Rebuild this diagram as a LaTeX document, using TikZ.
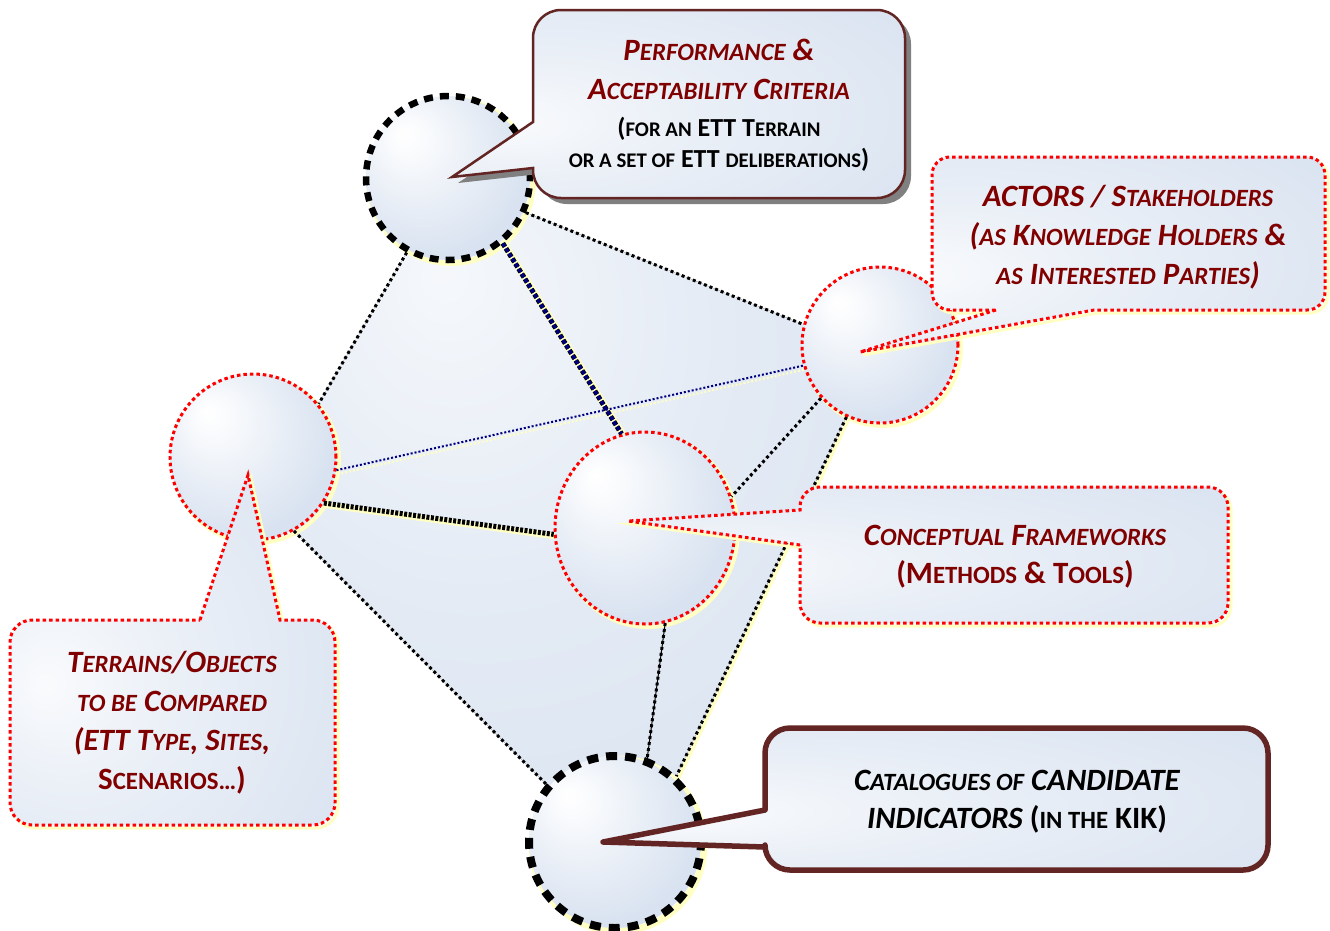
\documentclass[tikz,border=0pt]{standalone}
\usepackage{fontspec}
\setmainfont{Carlito}
\usetikzlibrary{shapes.geometric}
\definecolor{dred}{HTML}{800000}
\definecolor{bord}{HTML}{632523}
\definecolor{bl}{HTML}{D8E2F0}
\definecolor{glow}{HTML}{FFFFC4}
\definecolor{navy}{HTML}{00007F}
\definecolor{shd}{HTML}{808080}
\pgfdeclareradialshading{cirsh}{\pgfpoint{-14bp}{14bp}}{color(0bp)=(white); color(4bp)=(white!90!bl); color(30bp)=(bl); color(50bp)=(bl)}
\pgfdeclareradialshading{boxsh}{\pgfpoint{-20bp}{-5bp}}{color(0bp)=(white!85!bl); color(15bp)=(white!50!bl); color(45bp)=(bl); color(70bp)=(bl)}
\pgfdeclareradialshading{polysh}{\pgfpoint{-10bp}{18bp}}{color(0bp)=(white!75!bl); color(20bp)=(white!30!bl); color(45bp)=(bl); color(70bp)=(bl)}
\makeatletter
\newcommand\sm[1]{{\fontsize{\fpeval{0.8*\f@size}}{0pt}\selectfont #1}}
\makeatother
\newcommand\pl{\upshape\color{black}\fontsize{26}{31}\selectfont}
\pgfdeclarelayer{back}
\pgfdeclarelayer{front}
\pgfsetlayers{back,main,front}
\def\perfpath{(533,168) -- (533,170) .. controls (533,185.5) and (545.5,198) .. (561,198) -- (877,198) .. controls (892.5,198) and (905,185.5) .. (905,170) -- (905,38) .. controls (905,22.5) and (892.5,10) .. (877,10) -- (561,10) .. controls (545.5,10) and (533,22.5) .. (533,38) -- (533,122) -- (452,177) -- cycle}
\def\actpath{(996,310) -- (860,352) -- (1094,310) -- (1307,310) .. controls (1317,310) and (1325,302) .. (1325,292) -- (1325,175) .. controls (1325,165) and (1317,157) .. (1307,157) -- (950,157) .. controls (940,157) and (932,165) .. (932,175) -- (932,292) .. controls (932,302) and (940,310) .. (950,310) -- cycle}
\def\terpath{(200,620) -- (248,475) -- (280,620) -- (313,620) .. controls (325,620) and (335,630) .. (335,642) -- (335,803) .. controls (335,815) and (325,825) .. (313,825) -- (32,825) .. controls (20,825) and (10,815) .. (10,803) -- (10,642) .. controls (10,630) and (20,620) .. (32,620) -- cycle}
\def\conpath{(800,545) -- (628,521) -- (800,510) -- (800,507) .. controls (800,496) and (809,487) .. (820,487) -- (1208,487) .. controls (1219,487) and (1228,496) .. (1228,507) -- (1228,603) .. controls (1228,614) and (1219,623) .. (1208,623) -- (820,623) .. controls (809,623) and (800,614) .. (800,603) -- cycle}
\def\catpath{(765,847) -- (603,842) -- (765,810) -- (765,753) .. controls (765,739.2) and (776.2,728) .. (790,728) -- (1243,728) .. controls (1256.8,728) and (1268,739.2) .. (1268,753) -- (1268,845) .. controls (1268,858.8) and (1256.8,870) .. (1243,870) -- (790,870) .. controls (776.2,870) and (765,858.8) .. (765,845) -- cycle}
\begin{document}
\begin{tikzpicture}[x=1pt,y=-1pt,
 redd/.style={draw=red, line width=3pt, dash pattern=on 3.5pt off 3pt},
 cir/.style={circle, inner sep=0pt, shade, shading=cirsh},
 blk/.style={draw=black, line width=6.5pt, dash pattern=on 9pt off 7pt},
 dotc/.style={draw=black, line width=3pt, dash pattern=on 3pt off 3pt},
 glw/.style={draw=glow, line width=4pt, transform canvas={shift={(2pt,-2pt)}}},
 cglow/.style={draw=glow, line width=6pt},
 boxf/.style={shade, shading=boxsh},
 txt/.style={align=center, inner sep=0pt, font=\bfseries\itshape\fontsize{31}{39}\selectfont, text=dred}]
\useasboundingbox (0,0) rectangle (1330,930);
% circle centres
\coordinate (cP) at (448,178);
\coordinate (cT) at (253,457);
\coordinate (cA) at (880,345);
\coordinate (cC) at (645,528);
\coordinate (cK) at (615,842);
% glows of circles
\draw[cglow] ([shift={(3,3)}]cP) circle[radius=82];
\draw[cglow, line width=4pt] ([shift={(3,3)}]cT) circle[radius=83];
\draw[cglow, line width=4pt] ([shift={(3,3)}]cA) circle[radius=78];
\draw[cglow, line width=4pt] ([shift={(3,3)}]cC) ellipse[x radius=90, y radius=96];
\draw[cglow, line width=7pt] ([shift={(3,3)}]cK) circle[radius=86];
% circles
\node[cir, blk, minimum size=164pt] (P) at (cP) {};
\node[cir, redd, minimum size=166pt] (T) at (cT) {};
\node[cir, redd, minimum size=156pt] (A) at (cA) {};
\node[ellipse, inner sep=0pt, shade, shading=cirsh, redd, minimum width=180pt, minimum height=192pt] (C) at (cC) {};
\node[cir, draw=black, line width=8pt, dash pattern=on 11pt off 8pt, minimum size=172pt] (K) at (cK) {};
% background area and connector glows
\begin{pgfonlayer}{back}
\fill[white] (0,0) rectangle (1330,930);
\fill[shade, shading=polysh] (P.-24) -- (A.165) -- (A.center) -- (A.-115) -- (K.47) -- (K.center) -- (K.140) -- (T.-61) -- (T.center) -- (T.39) -- (P.241) -- (P.center) -- cycle;
\draw[glw, line width=7pt] (P.-50) -- (C.104);
\draw[draw=glow, line width=2pt, dash pattern=on 2pt off 2pt, transform canvas={shift={(1pt,-4pt)}}] (T.-9) -- (A.-165);
\draw[glw, line width=6pt] (T.-33) -- (C.184);
\draw[glw] (A.-115) -- (K.47);
\end{pgfonlayer}
% connectors
\draw[dotc] (P.241) -- (T.39);
\draw[dotc] (P.-24) -- (A.165);
\draw[draw=black, line width=5pt, dash pattern=on 4pt off 2pt] (P.-50) -- (C.104);
\draw[draw=navy, line width=3.5pt, dash pattern=on 4pt off 2pt] (P.-50) -- (C.104);
\draw[draw=navy, line width=2pt, dash pattern=on 2pt off 2pt] (T.-9) -- (A.-165);
\draw[draw=black, line width=5pt, dash pattern=on 3pt off 1.5pt] (T.-33) -- (C.184);
\draw[dotc] (T.-61) -- (K.140);
\draw[dotc] (A.-138) -- (C.20);
\draw[dotc] (A.-115) -- (K.47);
\draw[draw=black, line width=1pt] (C.-78) -- (K.69);
\draw[dotc] (C.-78) -- (K.69);
% callouts
\begin{pgfonlayer}{front}
\fill[shd, shift={(6,6)}] \perfpath;
\draw[draw=bord, line width=2.5pt, boxf] \perfpath;
\node[txt] (tP) at (719,105) {P\sm{ERFORMANCE} \&\\ A\sm{CCEPTABILITY} C\sm{RITERIA}\\[-2pt] \pl(\sm{FOR AN} ETT T\sm{ERRAIN}\\[-8pt] \pl\sm{OR A SET OF} ETT \sm{DELIBERATIONS})};
\draw[draw=glow, line width=3pt, shift={(3,3)}] \actpath;
\draw[redd, boxf] \actpath;
\node[txt] (tA) at (1128,237) {ACTORS / S\sm{TAKEHOLDERS}\\ (\sm{AS} K\sm{NOWLEDGE} H\sm{OLDERS} \&\\ \sm{AS} I\sm{NTERESTED} P\sm{ARTIES})};
\draw[draw=glow, line width=3pt, shift={(3,3)}] \terpath;
\draw[redd, boxf] \terpath;
\node[txt] (tT) at (172,723) {T\sm{ERRAINS}/O\sm{BJECTS}\\ \sm{TO BE} C\sm{OMPARED}\\ (ETT T\sm{YPE}, S\sm{ITES},\\ \upshape S\sm{CENARIOS\ldots})};
\draw[draw=glow, line width=3pt, shift={(3,3)}] \conpath;
\draw[redd, boxf] \conpath;
\node[txt] (tC) at (1015,557) {C\sm{ONCEPTUAL} F\sm{RAMEWORKS}\\[-1pt] \upshape(M\sm{ETHODS} \& T\sm{OOLS})};
\draw[draw=bord, line width=5.5pt, line join=round, boxf] \catpath;
\node[txt, text=black] (tK) at (1017,802) {C\sm{ATALOGUES OF} CANDIDATE\\[-1pt] INDICATORS {\upshape(\sm{IN THE} KIK)}};
\end{pgfonlayer}
\end{tikzpicture}
\end{document}
